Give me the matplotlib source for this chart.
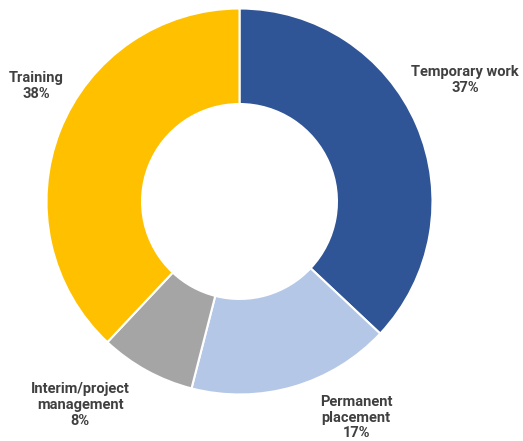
import matplotlib
matplotlib.use('Agg')

import matplotlib.pyplot as plt

# Revenue split by business line
segments = ["Temporary work", "Permanent\nplacement", "Interim/project\nmanagement", "Training"]
shares = [37, 17, 8, 38]
colors = ["#2F5597", "#B4C7E7", "#A5A5A5", "#FFC000"]

# label anchor points (pie radius = 1)
label_pos = [(1.168, 0.63), (0.604, -1.12), (-0.826, -1.054), (-1.054, 0.598)]

plt.rcParams['font.family'] = ['Roboto', 'DejaVu Sans']

fig = plt.figure(figsize=(5.23, 4.41), dpi=100)
ax = fig.add_axes([0, 0, 1, 1])

ax.pie(shares, colors=colors, startangle=90, counterclock=False, radius=1.0,
       wedgeprops=dict(width=0.495, edgecolor="white", linewidth=1.5))

for name, val, (x, y) in zip(segments, shares, label_pos):
    ax.text(x, y, f"{name}\n{val}%", ha="center", va="center", fontsize=10.5,
            fontweight="bold", color="#404040", linespacing=1.15)

ax.set_xlim(-1.241, 1.469)
ax.set_ylim(-1.241, 1.044)
ax.set_aspect("equal")
ax.axis("off")

plt.savefig("out.png", dpi=100)
plt.close()
